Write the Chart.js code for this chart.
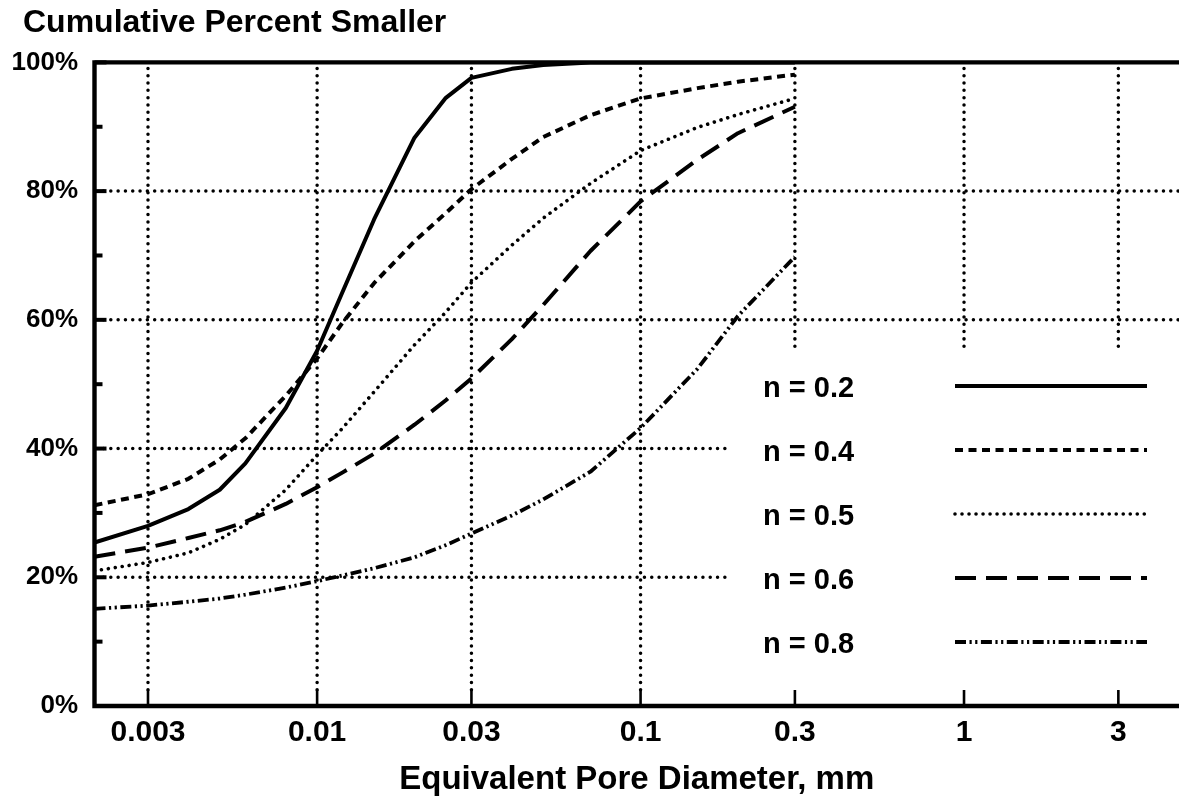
<!DOCTYPE html>
<html>
<head>
<meta charset="utf-8">
<script src="https://cdn.jsdelivr.net/npm/chart.js@4.4.1/dist/chart.umd.min.js"></script>
<style>html,body{margin:0;padding:0;background:#fff;overflow:hidden}</style>
</head>
<body>
<canvas id="c" width="1179" height="801"></canvas>
<script>
// ---- data ----
const diameters = [0.00205, 0.003, 0.004, 0.005, 0.006, 0.008, 0.01, 0.012, 0.015, 0.02, 0.025, 0.03, 0.04, 0.05, 0.07, 0.1, 0.15, 0.2, 0.3];
const n02 = [25.4, 28.0, 30.6, 33.6, 37.7, 46.3, 55.2, 64.4, 75.6, 88.3, 94.5, 97.6, 99.0, 99.6, 100, 100, 100, 100, 100];
const n04 = [31.2, 32.9, 35.3, 38.3, 41.6, 48.2, 54.0, 59.6, 65.7, 72.2, 76.6, 80.3, 85.0, 88.4, 91.8, 94.4, 96.0, 97.0, 98.1];
const n05 = [21.0, 22.3, 23.8, 25.9, 28.2, 33.6, 39.0, 43.2, 48.8, 56.1, 61.2, 65.8, 71.6, 75.8, 81.2, 86.3, 89.9, 91.9, 94.4];
const n06 = [23.2, 24.6, 26.1, 27.3, 28.6, 31.4, 34.0, 36.3, 39.2, 43.7, 47.5, 50.9, 57.0, 62.3, 70.7, 78.4, 84.9, 89.0, 93.1];
const n08 = [15.1, 15.6, 16.2, 16.7, 17.3, 18.4, 19.4, 20.3, 21.4, 23.1, 25.0, 26.8, 29.6, 32.1, 36.4, 43.2, 52.4, 60.6, 69.8];
const seriesLabels = ['n = 0.2', 'n = 0.4', 'n = 0.5', 'n = 0.6', 'n = 0.8'];
const xTickValues = [0.003, 0.01, 0.03, 0.1, 0.3, 1, 3];
const xTickLabels = ['0.003', '0.01', '0.03', '0.1', '0.3', '1', '3'];
const yMajorTicks = [0, 20, 40, 60, 80, 100];
const yMinorTicks = [10, 30, 50, 70, 90];
const xMin = 0.00205, xMax = 4.62;
const chartTitle = 'Cumulative Percent Smaller';
const xAxisTitle = 'Equivalent Pore Diameter, mm';

// ---- styles ----
const FONT = "'Liberation Sans', Arial, Helvetica, sans-serif";
const lineStyles = [
  {dash: [], width: 4, cap: 'butt'},
  {dash: [8, 5.5], width: 4, cap: 'butt'},
  {dash: [0.01, 7], width: 3.6, cap: 'round'},
  {dash: [21, 10], width: 4, cap: 'butt'},
  {dash: [11, 3.5, 2.2, 3.5, 2.2, 3.5], width: 3.8, cap: 'butt'}
];
const seriesValues = [n02, n04, n05, n06, n08];
const GRID_GAP = {x: 728, y: 352};     // grid is omitted right/below this corner (legend area)
const LEGEND = {textX: 763, lineX0: 955, lineX1: 1147, y0: 386, dy: 64};
const TITLE_LEFT = 23;

const datasets = seriesValues.map((vals, i) => ({
  label: seriesLabels[i],
  data: diameters.map((d, j) => ({x: d, y: vals[j]})),
  borderColor: '#000',
  borderWidth: lineStyles[i].width,
  borderDash: lineStyles[i].dash,
  borderCapStyle: lineStyles[i].cap,
  borderJoinStyle: 'round',
  pointRadius: 0,
  fill: false,
  tension: 0
}));

const framePlugin = {
  id: 'frame',
  afterLayout(chart) {
    if (chart.titleBlock) { chart.titleBlock.left = TITLE_LEFT; }
  },
  beforeDatasetsDraw(chart) {
    const {ctx, chartArea: a, scales: {x, y}} = chart;
    ctx.save();
    ctx.strokeStyle = '#000';
    ctx.lineWidth = 3.5;
    ctx.lineCap = 'round';
    ctx.setLineDash([0.01, 7.3]);
    yMajorTicks.forEach(v => {
      if (v <= 0 || v >= 100) return;
      const py = y.getPixelForValue(v);
      const xEnd = py > GRID_GAP.y ? GRID_GAP.x : a.right;
      ctx.beginPath(); ctx.moveTo(a.left + 9, py); ctx.lineTo(xEnd, py); ctx.stroke();
    });
    xTickValues.forEach(v => {
      const px = x.getPixelForValue(v);
      const yEnd = px > GRID_GAP.x ? GRID_GAP.y : a.bottom - 14;
      ctx.beginPath(); ctx.moveTo(px, a.top + 6); ctx.lineTo(px, yEnd); ctx.stroke();
    });
    ctx.restore();
  },
  afterDatasetsDraw(chart) {
    const {ctx, chartArea: a, scales: {x, y}} = chart;
    ctx.save();
    ctx.strokeStyle = '#000';
    ctx.setLineDash([]);
    ctx.lineCap = 'butt';
    // x ticks (inward)
    ctx.lineWidth = 2.6;
    xTickValues.forEach(v => {
      const px = x.getPixelForValue(v);
      ctx.beginPath(); ctx.moveTo(px, a.bottom); ctx.lineTo(px, a.bottom - 16); ctx.stroke();
    });
    // y ticks (inward)
    ctx.lineWidth = 4;
    yMajorTicks.forEach(v => {
      const py = y.getPixelForValue(v);
      ctx.beginPath(); ctx.moveTo(a.left, py); ctx.lineTo(a.left + 12, py); ctx.stroke();
    });
    yMinorTicks.forEach(v => {
      const py = y.getPixelForValue(v);
      ctx.beginPath(); ctx.moveTo(a.left, py); ctx.lineTo(a.left + 8, py); ctx.stroke();
    });
    // frame: left, top, bottom
    ctx.lineWidth = 4.4;
    ctx.beginPath();
    ctx.moveTo(a.right, a.top); ctx.lineTo(a.left, a.top); ctx.lineTo(a.left, a.bottom); ctx.lineTo(a.right, a.bottom);
    ctx.stroke();
    ctx.restore();
  },
  afterDraw(chart) {
    const {ctx} = chart;
    ctx.save();
    ctx.fillStyle = '#000';
    ctx.strokeStyle = '#000';
    ctx.font = 'bold 29px ' + FONT;
    ctx.textBaseline = 'middle';
    ctx.textAlign = 'left';
    chart.data.datasets.forEach((ds, i) => {
      const ly = LEGEND.y0 + i * LEGEND.dy;
      ctx.fillText(ds.label, LEGEND.textX, ly + 2.5);
      ctx.lineWidth = ds.borderWidth;
      ctx.lineCap = ds.borderCapStyle;
      ctx.setLineDash(ds.borderDash);
      ctx.beginPath(); ctx.moveTo(LEGEND.lineX0, ly); ctx.lineTo(LEGEND.lineX1, ly); ctx.stroke();
    });
    ctx.restore();
  }
};

new Chart(document.getElementById('c'), {
  type: 'line',
  data: {datasets},
  options: {
    responsive: false,
    animation: false,
    devicePixelRatio: 1,
    layout: {padding: {left: 0, right: 0, top: 0, bottom: 0}},
    plugins: {
      legend: {display: false},
      tooltip: {enabled: false},
      title: {
        display: true, text: chartTitle, align: 'start', color: '#000',
        font: {family: FONT, size: 32, weight: 'bold'},
        padding: {top: 4, bottom: 20}
      }
    },
    scales: {
      x: {
        type: 'logarithmic', min: xMin, max: xMax,
        grid: {display: false, drawTicks: false},
        border: {display: false},
        afterBuildTicks: s => { s.ticks = xTickValues.map(v => ({value: v})); },
        ticks: {
          autoSkip: false, maxRotation: 0, minRotation: 0, padding: 9, color: '#000',
          font: {family: FONT, size: 30, weight: 'bold'},
          callback: (v, i) => xTickLabels[i]
        },
        title: {
          display: true, text: xAxisTitle, color: '#000',
          font: {family: FONT, size: 33, weight: 'bold'},
          padding: {top: 0, bottom: 1}
        },
        afterFit: s => { s.height = 95; }
      },
      y: {
        min: 0, max: 100,
        grid: {display: false, drawTicks: false},
        border: {display: false},
        afterBuildTicks: s => { s.ticks = yMajorTicks.map(v => ({value: v})); },
        ticks: {
          padding: 16.5, color: '#000',
          font: {family: FONT, size: 26, weight: 'bold'},
          callback: v => v + '%'
        },
        afterFit: s => { s.width = 94.5; }
      }
    }
  },
  plugins: [framePlugin]
});
</script>
</body>
</html>
